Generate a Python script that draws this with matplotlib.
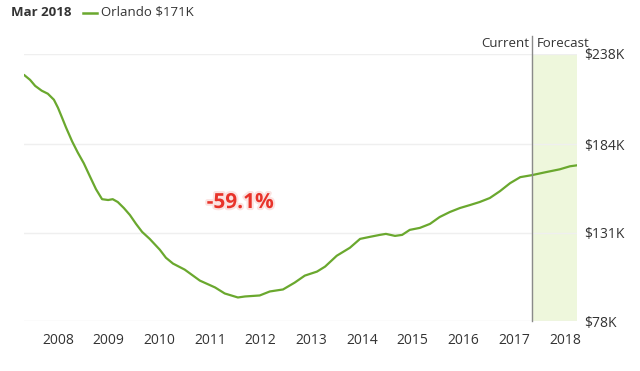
import matplotlib
matplotlib.use("Agg")
import matplotlib.pyplot as plt
import matplotlib.patheffects as pe

plt.rcParams['font.family'] = ['Open Sans', 'DejaVu Sans']

# decimal year, home value in $K (Orlando)
dates = [2007.33, 2007.45, 2007.55, 2007.68, 2007.80, 2007.92, 2008.00, 2008.08,
         2008.16, 2008.28, 2008.39, 2008.51, 2008.63, 2008.75, 2008.87, 2008.99,
         2009.08, 2009.18, 2009.30, 2009.42, 2009.54, 2009.66, 2009.81, 2010.01,
         2010.13, 2010.27, 2010.50, 2010.80, 2011.10, 2011.29, 2011.55, 2011.69,
         2011.98, 2012.18, 2012.44, 2012.67, 2012.87, 2013.11, 2013.27, 2013.50,
         2013.76, 2013.96, 2014.15, 2014.35, 2014.47, 2014.65, 2014.79, 2014.94,
         2015.14, 2015.34, 2015.53, 2015.73, 2015.93, 2016.13, 2016.32, 2016.52,
         2016.72, 2016.92, 2017.12, 2017.35, 2017.61, 2017.90, 2018.10, 2018.24]
values = [225.5, 222.5, 218.9, 216.0, 214.2, 210.6, 205.8, 199.9,
          193.9, 185.6, 179.0, 172.5, 164.7, 157.0, 151.0, 150.5,
          151.0, 149.3, 145.7, 141.5, 136.2, 131.4, 127.2, 120.7,
          115.9, 112.4, 108.8, 102.2, 98.1, 94.5, 92.1, 92.7,
          93.3, 95.7, 96.9, 101.0, 105.2, 107.6, 110.6, 117.1,
          121.9, 127.2, 128.4, 129.6, 130.2, 129.0, 129.6, 132.6,
          133.8, 136.2, 140.3, 143.3, 145.7, 147.5, 149.3, 151.7,
          155.8, 160.6, 164.2, 165.4, 167.1, 168.9, 170.7, 171.3]

years = list(range(2008, 2019))
yticks = [78, 131, 184, 238]
ylabels = ['$78K', '$131K', '$184K', '$238K']
current = 2017.35
x_start, x_end = 2007.33, 2018.24

green = '#6aa82e'

fig = plt.figure(figsize=(6.4, 3.71), dpi=100)
ax = fig.add_axes([24 / 640, 1 - 321 / 371, 553 / 640, 267 / 371])
ax.set_xlim(x_start, x_end)
ax.set_ylim(78, 238)

ax.axvspan(current, x_end, color='#eef7dc', zorder=0)
for t in yticks:
    ax.axhline(t, color='#efefef', lw=1, zorder=1)
ax.plot(dates, values, color=green, lw=1.6, zorder=3, solid_capstyle='round')
ax.plot([current, current], [78, 249], color='#8a8a8a', lw=1, clip_on=False, zorder=4)

for s in ax.spines.values():
    s.set_visible(False)
ax.set_xticks(years)
ax.set_xticklabels([str(y) for y in years], fontsize=10, color='#333333')
ax.tick_params(axis='x', length=0, pad=9)
ax.yaxis.tick_right()
ax.set_yticks(yticks)
ax.set_yticklabels(ylabels, fontsize=10, color='#333333')
ax.tick_params(axis='y', length=0, pad=5)

ax.text(current - 0.06, 244.5, 'Current', ha='right', va='center', fontsize=9.5, color='#333333')
ax.text(current + 0.1, 244.5, 'Forecast', ha='left', va='center', fontsize=9.5, color='#333333')

ax.text(2011.6, 149, '-59.1%', ha='center', va='center', fontsize=15, fontweight='bold',
        color='#e8332a', path_effects=[pe.withStroke(linewidth=3, foreground='#fbe3e1')])

fig.text(11 / 640, 1 - 12 / 371, 'Mar 2018', fontsize=9.5, fontweight='bold',
         color='#333333', va='center', ha='left')
fig.add_artist(plt.Line2D([83 / 640, 97 / 640], [1 - 13 / 371, 1 - 13 / 371],
                          color=green, lw=1.8))
fig.text(101 / 640, 1 - 12 / 371, 'Orlando $171K', fontsize=9.5, color='#333333',
         va='center', ha='left')

fig.savefig('out.png', dpi=100)
